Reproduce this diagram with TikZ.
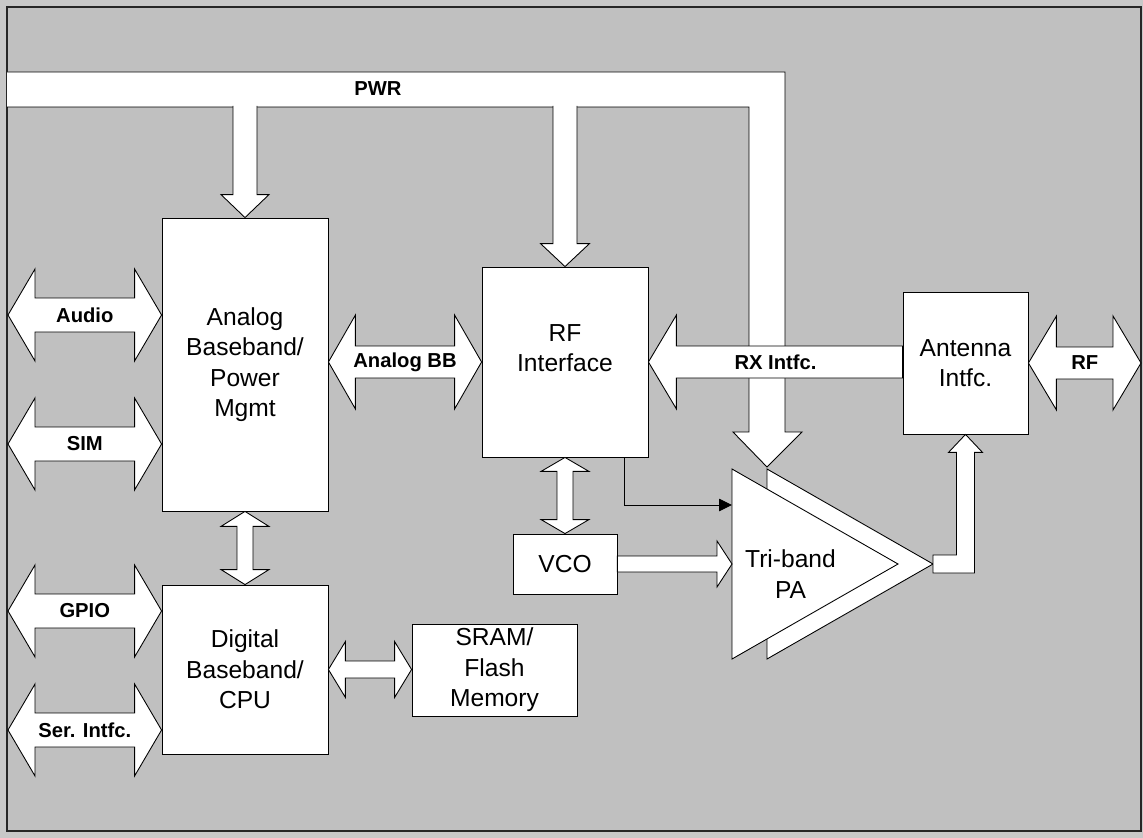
\documentclass[tikz,border=0pt]{standalone}
\usepackage{fontspec}
\setmainfont{Liberation Sans}
\usetikzlibrary{calc,arrows.meta}

% block arrows: tips #1 and #2, shaft half width #3, head half width #4, head length #5
\newcommand{\hdbl}[5]{%
  \draw[blockarrow] (#1) -- ++(#5,-#4) -- ++(0,#4-#3) -- ($(#2)+(-#5,-#3)$) -- ++(0,#3-#4) -- (#2)
    -- ++(-#5,#4) -- ++(0,#3-#4) -- ($(#1)+(#5,#3)$) -- ++(0,#4-#3) -- cycle;}
\newcommand{\vdbl}[5]{%
  \draw[blockarrow] (#1) -- ++(-#4,#5) -- ++(#4-#3,0) -- ($(#2)+(-#3,-#5)$) -- ++(#3-#4,0) -- (#2)
    -- ++(#4,-#5) -- ++(#3-#4,0) -- ($(#1)+(#3,#5)$) -- ++(#4-#3,0) -- cycle;}

\definecolor{panelgray}{HTML}{C0C0C0}
\definecolor{margingray}{HTML}{C8C8C8}

\begin{document}
\begin{tikzpicture}[x=0.02cm,y=-0.02cm,line width=0.5pt,
  box/.style={draw,fill=white,align=center,inner sep=0pt,font=\fontsize{14}{17.3}\selectfont},
  blockarrow/.style={draw,fill=white,line join=miter},
  bus label/.style={font=\fontsize{11.5}{13}\selectfont\bfseries},
  thin arrow/.style={-{Triangle[length=2.6mm,width=2.5mm]}}]

  % panel
  \fill[margingray] (0,0) rectangle (1143,838);
  \draw[fill=panelgray,draw=black!85,line width=0.8pt] (7,7) rectangle (1141,831);

  % power bus
  \coordinate (busin) at (7,106);
  \coordinate (pwrtip) at (767,467);
  \draw[blockarrow] (7,72) -- (785,72) -- (785,432) -- (802,432) -- (pwrtip) -- (733,432) -- (749,432) -- (749,107) -- (7,107);
  \node[bus label] (pwr) at (378,89) {PWR};

  % blocks
  \node[box,minimum width=3.32cm,minimum height=5.86cm] (abb) at (245,364.5) {Analog\\Baseband/\\Power\\Mgmt};
  \node[box,minimum width=3.32cm,minimum height=3.38cm] (dbb) at (245,669.5) {Digital\\Baseband/\\CPU};
  \node[box,minimum width=3.32cm,minimum height=3.8cm,text depth=0.56cm] (rf) at (565,362) {RF\\Interface};
  \node[box,minimum width=2.5cm,minimum height=2.84cm] (ant) at (965.5,363) {Antenna\\Intfc.};
  \node[box,minimum width=2.08cm,minimum height=1.2cm] (vco) at (565,564) {VCO};
  \node[box,minimum width=3.3cm,minimum height=1.84cm] (mem) at (494.5,670) {SRAM/\\Flash\\Memory};

  % power taps
  \draw[blockarrow] ($(abb.north |- busin)+(-12,0)$) -- ($(abb.north)+(-12,-23)$) -- ++(-12,0) -- (abb.north)
    -- ++(24,-23) -- ++(-12,0) -- ($(abb.north |- busin)+(12,0)$);
  \draw[blockarrow] ($(rf.north |- busin)+(-12,0)$) -- ($(rf.north)+(-12,-23)$) -- ++(-12.5,0) -- (rf.north)
    -- ++(24.5,-23) -- ++(-12.5,0) -- ($(rf.north |- busin)+(12,0)$);

  % external interfaces
  \foreach \yy/\txt [count=\i] in {315/Audio,444/SIM,611/GPIO,730/Ser. Intfc.} {
    \coordinate (lt) at (8,\yy);
    \hdbl{lt}{abb.west |- lt}{17}{46}{27}
    \node[bus label] (ext\i) at ($(lt)!0.5!(abb.west |- lt)$) {\txt};
  }

  \hdbl{abb.east |- rf.west}{rf.west}{16}{47}{27}
  \node[bus label] (abbl) at ($(abb.east |- rf.west)!0.5!(rf.west)$) {Analog BB};

  \draw[blockarrow] (rf.east) -- ++(28,-47) -- ++(0,31) -- ($(ant.west |- rf.east)+(0,-16)$) -- ++(0,32)
    -- ($(rf.east)+(28,16)$) -- ++(0,31) -- cycle;
  \node[bus label] (rxl) at ($(rf.east)!0.5!(ant.west |- rf.east)$) {RX Intfc.};

  \coordinate (rfend) at (1141,363);
  \hdbl{ant.east}{rfend}{16}{47}{28}
  \node[bus label] (rfl) at ($(ant.east)!0.5!(rfend)$) {RF};

  \vdbl{abb.south}{dbb.north}{8}{24}{15}
  \vdbl{rf.south}{vco.north}{8}{24}{14}
  \hdbl{dbb.east}{dbb.east -| mem.west}{8.5}{28}{17}

  % power amplifier
  \coordinate (pa1) at (732,469);
  \coordinate (pa2) at (898,564);
  \coordinate (pa3) at (732,659);
  \coordinate (pb) at (933,564);
  \draw[fill=white] ($(pa1)+(35,0)$) -- (pb) -- ($(pa3)+(35,0)$) -- cycle;
  \draw[fill=white] (pa1) -- (pa2) -- (pa3) -- cycle;
  \node[align=center,font=\fontsize{14}{17.3}\selectfont] (pa) at (790.5,574) {Tri-band\\PA};

  \draw[blockarrow] ($(vco.east)+(0,-8)$) -- ($(pa1 |- vco.east)+(-15,-8)$) -- ++(0,-15) -- (pa1 |- vco.east)
    -- ++(-15,23) -- ++(0,-15) -- ($(vco.east)+(0,8)$) -- cycle;

  \draw[blockarrow] ($(pb)+(0,-9)$) -| ($(ant.south)+(-9,18)$) -- ++(-8,0) -- (ant.south) -- ++(17,18)
    -- ++(-8,0) |- ($(pb)+(0,9)$) -- cycle;

  \coordinate (pain) at (732,505);
  \draw[thin arrow] ($(rf.south east)+(-24,0)$) |- (pain);
\end{tikzpicture}
\end{document}
